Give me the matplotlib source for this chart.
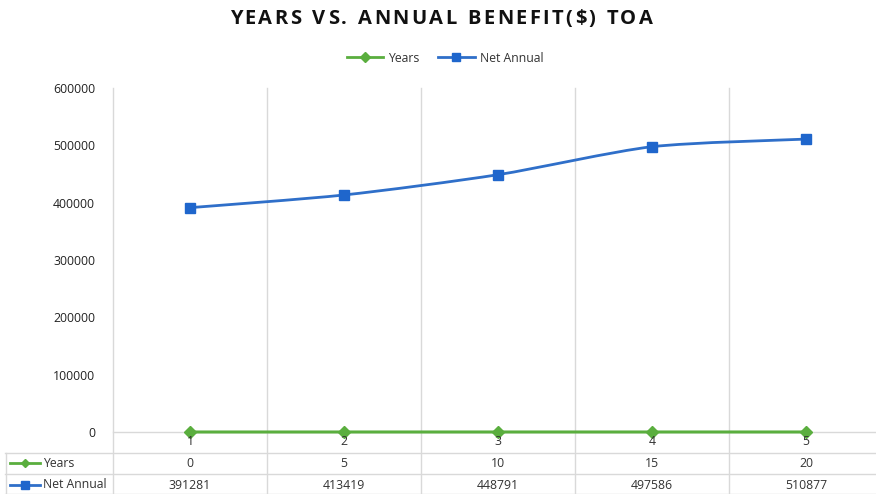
import matplotlib
matplotlib.use("Agg")
import matplotlib.pyplot as plt
from matplotlib.path import Path
from matplotlib.patches import PathPatch
from matplotlib.lines import Line2D
from matplotlib.transforms import blended_transform_factory
import numpy as np

categories = ["1", "2", "3", "4", "5"]
years = [0, 5, 10, 15, 20]
net_annual = [391281, 413419, 448791, 497586, 510877]
y_ticks = [0, 100000, 200000, 300000, 400000, 500000, 600000]
title = "YEARS VS. ANNUAL BENEFIT($) TOA"

W, H = 876, 494
GREEN = "#5aae3e"
BLUE = "#2f6fc9"
MBLUE = "#1f66cc"
GRID = "#d9d9d9"
TXT = "#333333"
FONT = "Open Sans"

plt.rcParams["font.family"] = [FONT, "DejaVu Sans"]

fig = plt.figure(figsize=(W / 100, H / 100), dpi=100)
ax = fig.add_axes([113 / W, (H - 432) / H, 770 / W, 344 / H])
ax.patch.set_visible(False)
ax.set_xlim(0.5, len(categories) + 0.5)
ax.set_ylim(0, 600000)
for s in ax.spines.values():
    s.set_visible(False)
ax.set_xticks([])
ax.set_yticks(y_ticks)
ax.set_yticklabels([str(v) for v in y_ticks], fontsize=8.8, color="#222222")
ax.tick_params(axis="y", length=0, pad=13)

x = np.arange(1, len(categories) + 1)


def smooth_path(xs, ys, k=8.0):
    pts = np.column_stack([xs, ys]).astype(float)
    n = len(pts)
    verts = [pts[0]]
    codes = [Path.MOVETO]
    for i in range(n - 1):
        p0 = pts[i - 1] if i > 0 else pts[i]
        p1 = pts[i]
        p2 = pts[i + 1]
        p3 = pts[i + 2] if i + 2 < n else pts[i + 1]
        c1 = p1 + (p2 - p0) / k
        c2 = p2 - (p3 - p1) / k
        verts += [c1, c2, p2]
        codes += [Path.CURVE4] * 3
    return Path(verts, codes)


ax.add_patch(PathPatch(smooth_path(x, net_annual), fill=False, edgecolor=BLUE,
                       lw=2.0, zorder=3))
ax.plot(x, net_annual, ls="none", marker="s", ms=6.5, color=MBLUE, zorder=4)
ax.plot(x, years, color=GREEN, lw=2.2, marker="D", ms=6, zorder=4,
        clip_on=False)

bt = blended_transform_factory(ax.transData, fig.transFigure)


def fy(py):
    return 1 - py / H


def fx(px):
    return px / W


# vertical grid lines / table column separators
for b in np.arange(0.5, len(categories) + 1, 1.0):
    fig.add_artist(Line2D([b, b], [fy(88), fy(494)], transform=bt, color=GRID,
                          lw=1.0, zorder=-2))
# x axis line
fig.add_artist(Line2D([fx(113), fx(W)], [fy(432), fy(432)],
                      transform=fig.transFigure, color=GRID, lw=1.0, zorder=-2))
# table horizontal lines
for py in [453, 473.5, 493.5]:
    fig.add_artist(Line2D([fx(5), fx(W)], [fy(py), fy(py)],
                          transform=fig.transFigure, color=GRID, lw=1.0,
                          zorder=-2))
fig.add_artist(Line2D([fx(5.5), fx(5.5)], [fy(453), fy(494)],
                      transform=fig.transFigure, color=GRID, lw=1.0, zorder=-2))

# category labels
for xi, c in zip(x, categories):
    fig.text(xi, fy(441), c, transform=bt, ha="center", va="center",
             fontsize=8.8, color=TXT)

# table values
for xi, v in zip(x, years):
    fig.text(xi, fy(463), str(v), transform=bt, ha="center", va="center",
             fontsize=8.8, color=TXT)
for xi, v in zip(x, net_annual):
    fig.text(xi, fy(485), str(v), transform=bt, ha="center", va="center",
             fontsize=8.8, color=TXT)

# row legend keys
for py, col, mk, ms, lab, mc in [(463, GREEN, "D", 4.5, "Years", GREEN),
                                 (484.5, BLUE, "s", 5.5, "Net Annual", MBLUE)]:
    fig.add_artist(Line2D([fx(10), fx(40)], [fy(py), fy(py)],
                          transform=fig.transFigure, color=col, lw=2.0))
    fig.add_artist(Line2D([fx(25)], [fy(py)], transform=fig.transFigure,
                          marker=mk, ms=ms, color=mc, ls="none"))
    fig.text(fx(43), fy(py), lab, ha="left", va="center", fontsize=8.8,
             color=TXT)

# legend
handles = [Line2D([], [], color=GREEN, lw=2.0, marker="D", ms=5),
           Line2D([], [], color=BLUE, lw=2.0, marker="s", ms=6,
                  markerfacecolor=MBLUE, markeredgecolor=MBLUE)]
fig.legend(handles, ["Years", "Net Annual"], loc="center",
           bbox_to_anchor=(fx(445), fy(58)), ncol=2, frameon=False,
           fontsize=8.8, handlelength=3.0, columnspacing=1.5,
           handletextpad=0.4, labelcolor=TXT)

# title with letter spacing
renderer = fig.canvas.get_renderer()
tkw = dict(fontsize=14.5, fontweight="bold", color="#111111",
           family=[FONT, "DejaVu Sans"], va="center", ha="left")
spacing = 2.4
tmp = [fig.text(0, 0, ch if ch != " " else "\u00a0", **tkw) for ch in title]
widths = []
for t, ch in zip(tmp, title):
    if ch == " ":
        widths.append(6.0)
    else:
        widths.append(t.get_window_extent(renderer).width)
    t.remove()
total = sum(widths) + spacing * (len(title) - 1)
cx = 441 - total / 2
for ch, w in zip(title, widths):
    if ch != " ":
        fig.text(fx(cx), fy(19), ch, **tkw)
    cx += w + spacing

fig.savefig("out.png", dpi=100)
